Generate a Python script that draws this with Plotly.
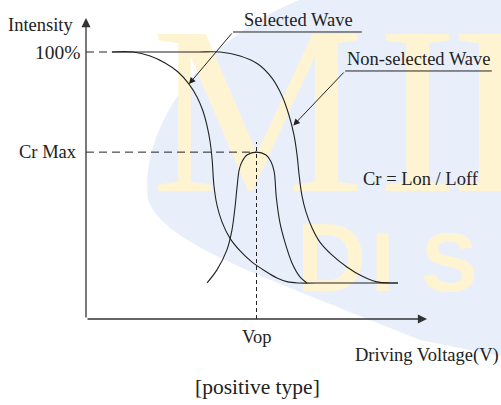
import plotly.graph_objects as go

# ---------------- data (V = driving voltage units, I = intensity %) ----------------
sel_v = [0.76, 1.38, 1.88, 2.32, 2.70, 3.02, 3.26, 3.43, 3.55, 3.64, 3.70, 3.75, 3.84, 3.99, 4.22, 4.52, 4.87, 5.25, 5.60, 5.92, 6.22, 7.0, 8.0, 9.15]
sel_i = [100, 100, 98.5, 95.9, 92.5, 88.0, 83.1, 77.9, 72.3, 66.3, 59.6, 50.2, 42.7, 36.3, 30.3, 25.5, 21.3, 18.0, 15.4, 13.9, 13.5, 13.5, 13.5, 13.5]

non_v = [0.76, 1.6, 2.5, 3.3, 3.93, 4.52, 5.04, 5.45, 5.75, 5.95, 6.10, 6.19, 6.25, 6.33, 6.45, 6.63, 6.86, 7.21, 7.65, 8.09, 8.53, 8.91, 9.15]
non_i = [100, 100, 100, 100, 100, 98.5, 95.5, 90.3, 83.5, 76.4, 68.9, 61.4, 53.9, 46.4, 40.1, 34.1, 28.8, 24.0, 19.5, 16.1, 13.9, 13.5, 13.5]

cr_v = [3.55, 3.84, 4.13, 4.28, 4.37, 4.43, 4.49, 4.57, 4.72, 5.0, 5.28, 5.43, 5.52, 5.58, 5.69, 5.84, 6.04, 6.28, 6.48]
cr_i = [13.5, 18.4, 25.8, 33.3, 41.9, 49.4, 55.8, 58.8, 61.4, 62.5, 61.4, 58.8, 55.1, 45.7, 35.9, 28.5, 21.0, 15.7, 13.5]

y_tick_vals = [100, 62.5]
y_tick_text = ["100%", "Cr Max"]
x_tick_vals = [5.0]
x_tick_text = ["Vop"]
x_axis_max = 10.0
y_axis_max = 112.7

FONT = "Liberation Serif, Times New Roman, serif"
INK = "#222222"
FS = 18.5
W, H = 501, 405

fig = go.Figure()

# ---------------- faint watermark (background) ----------------
def P(px, py):
    return f"{px / W:.4f},{1 - py / H:.4f}"

swoosh = ("M " + P(148, 200) + " C " + P(165, 245) + " " + P(260, 275) + " " + P(420, 340)
          + " L " + P(520, 360) + " L " + P(520, -10) + " L " + P(330, -10)
          + " C " + P(230, 15) + " " + P(138, 110) + " " + P(148, 200) + " Z")
fig.add_shape(type="path", xref="paper", yref="paper", path=swoosh,
              fillcolor="rgba(225,233,248,0.72)", line=dict(width=0), layer="below")

WM = "#FFF4D2"
fig.add_trace(go.Scatter(x=[5.04, 9.72, 11.85], y=[70.5, 70.5, 70.5], mode="text",
                         text=["M", "I", "I"], textposition="middle center",
                         textfont=dict(family=FONT, size=240, color=WM),
                         hoverinfo="skip"))
fig.add_trace(go.Scatter(x=[7.2], y=[19.6], mode="text", text=["D"], textposition="middle center",
                         textfont=dict(family="Liberation Sans, Arial, sans-serif", size=96,
                                       color=WM, weight="bold"),
                         hoverinfo="skip"))
fig.add_trace(go.Scatter(x=[8.70, 10.65], y=[18.2, 18.2], mode="text", text=["I", "S"],
                         textposition="middle center",
                         textfont=dict(family="Liberation Sans, Arial, sans-serif", size=84,
                                       color=WM, weight="bold"),
                         hoverinfo="skip"))

# ---------------- curves ----------------
line_style = dict(color=INK, width=1.1, shape="spline", smoothing=0.9)
fig.add_trace(go.Scatter(x=sel_v, y=sel_i, mode="lines", line=line_style, hoverinfo="skip"))
fig.add_trace(go.Scatter(x=non_v, y=non_i, mode="lines", line=line_style, hoverinfo="skip"))
fig.add_trace(go.Scatter(x=cr_v, y=cr_i, mode="lines", line=line_style, hoverinfo="skip"))

# dashed guide lines
fig.add_trace(go.Scatter(x=[0, sel_v[0]], y=[y_tick_vals[0]] * 2, mode="lines",
                         line=dict(color=INK, width=1, dash="8px,5px"), hoverinfo="skip"))
fig.add_trace(go.Scatter(x=[0, x_tick_vals[0]], y=[y_tick_vals[1]] * 2, mode="lines",
                         line=dict(color=INK, width=1, dash="8px,5px"), hoverinfo="skip"))
fig.add_trace(go.Scatter(x=[x_tick_vals[0]] * 2, y=[0, 66.3], mode="lines",
                         line=dict(color=INK, width=1, dash="4px,3px"), hoverinfo="skip"))

# label underlines
fig.add_trace(go.Scatter(x=[4.31, 8.09], y=[107.5, 107.5], mode="lines",
                         line=dict(color=INK, width=1), hoverinfo="skip"))
fig.add_trace(go.Scatter(x=[7.60, 11.9], y=[92.9, 92.9], mode="lines",
                         line=dict(color=INK, width=1), hoverinfo="skip"))

ann = []
# axes with arrows
ann.append(dict(x=0, y=y_axis_max, ax=0, ay=0, xref="x", yref="y", axref="x", ayref="y",
                showarrow=True, arrowhead=2, arrowsize=1.4, arrowwidth=1.3, arrowcolor="#333", text=""))
ann.append(dict(x=x_axis_max, y=0, ax=0, ay=0, xref="x", yref="y", axref="x", ayref="y",
                showarrow=True, arrowhead=2, arrowsize=1.4, arrowwidth=1.3, arrowcolor="#333", text=""))
# pointer arrows
ann.append(dict(x=3.02, y=88.0, ax=4.31, ay=107.5, xref="x", yref="y", axref="x", ayref="y",
                showarrow=True, arrowhead=2, arrowsize=1.3, arrowwidth=1, arrowcolor=INK, text=""))
ann.append(dict(x=6.08, y=72.5, ax=7.60, ay=92.9, xref="x", yref="y", axref="x", ayref="y",
                showarrow=True, arrowhead=2, arrowsize=1.3, arrowwidth=1, arrowcolor=INK, text=""))

def txt(t, x, y, xa="center", size=FS):
    return dict(text=t, x=x, y=y, xref="x", yref="y", showarrow=False, xanchor=xa, yanchor="middle",
                font=dict(family=FONT, size=size, color=INK))

ann.append(txt("Intensity", -0.33, 110.0, "right"))
ann.append(txt(y_tick_text[0], -0.08, y_tick_vals[0], "right", 19.5))
ann.append(txt(y_tick_text[1], -0.22, y_tick_vals[1], "right"))
ann.append(txt(x_tick_text[0], x_tick_vals[0], -6.6))
ann.append(txt("Driving Voltage(V)", 12.17, -13.8, "right"))
ann.append(txt("Selected Wave", 6.22, 112.0))
ann.append(txt("Non-selected Wave", 9.77, 97.2))
ann.append(txt("Cr = Lon / Loff", 9.81, 52.6))
ann.append(txt("[positive type]", 5.03, -25.5, "center", 21.5))

fig.update_layout(
    width=W, height=H, margin=dict(l=0, r=0, t=0, b=0),
    paper_bgcolor="white", plot_bgcolor="white", showlegend=False,
    xaxis=dict(range=[-2.522, 12.170], visible=False, fixedrange=True),
    yaxis=dict(range=[-32.21, 119.48], visible=False, fixedrange=True),
    annotations=ann,
)

fig.write_html("out.html", config={"displayModeBar": False},
               post_script="document.body.style.margin='0';document.body.style.overflow='hidden';")
